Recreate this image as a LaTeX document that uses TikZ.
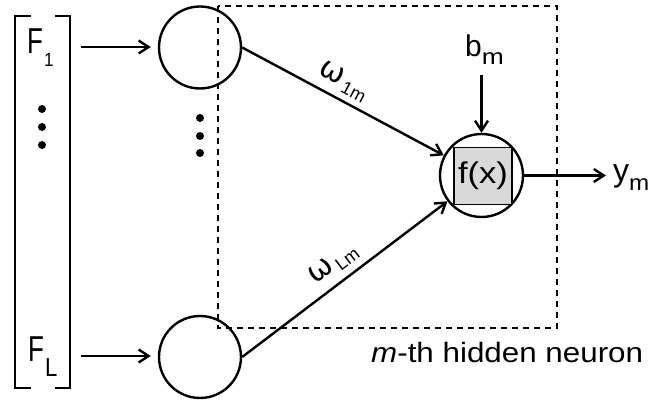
\documentclass[tikz,border=0pt]{standalone}
\usepackage{fontspec}
\setmainfont{Liberation Sans}
\newfontfamily\grk{DejaVu Sans}
\usetikzlibrary{arrows.meta}
\begin{document}
\begin{tikzpicture}[x=1pt,y=-1pt,
  line width=2.4pt,
  neuron/.style={draw,circle,minimum size=82pt,inner sep=0pt},
  arr/.style={-{Straight Barb[length=10pt,width=13pt]}},
  dotc/.style={fill,circle,inner sep=0pt,minimum size=8pt},
  txt/.style={inner sep=0pt,font=\fontsize{28}{32}\selectfont},
  wlab/.style={inner sep=0pt,sloped,font=\fontsize{28}{32}\selectfont},
  dbox/.style={dash pattern=on 6pt off 5pt},
]
\useasboundingbox (0,0) rectangle (649,403);

% input vector bracket
\draw (31,16) -- (15,16) -- (15,388) -- (31,388);
\draw (55,16) -- (70,16) -- (70,388) -- (55,388);
\node[txt,anchor=base west] (F1) at (26,54) {\scalebox{0.72}[1]{\fontsize{36}{36}\selectfont F}\hspace{1pt}\raisebox{-13pt}{\scalebox{0.9}[1]{\fontsize{19}{19}\selectfont 1}}};
\node[txt,anchor=base west] (FL) at (27,362) {\scalebox{0.72}[1]{\fontsize{36}{36}\selectfont F}\hspace{1pt}\raisebox{-15pt}{\scalebox{0.85}[1]{\fontsize{26}{26}\selectfont L}}};
\node[dotc] (d1) at (42,109) {};
\node[dotc] (d2) at (42,127) {};
\node[dotc] (d3) at (42,145) {};

% input neurons
\node[neuron] (in1) at (200,47.5) {};
\node[neuron] (inL) at (200,357) {};
\node[dotc] (e1) at (200,118) {};
\node[dotc] (e2) at (200,136) {};
\node[dotc] (e3) at (200,153) {};

\coordinate (a1) at (81,47);
\coordinate (aL) at (81,356);
\draw[arr,shorten >=7pt] (a1) -- (in1.west |- a1);
\draw[arr,shorten >=7pt] (aL) -- (inL.west |- aL);

% output neuron
\node[neuron,minimum size=83pt] (out) at (481.5,175.5) {};
\node[draw,line width=1.6pt,fill=gray!30,minimum width=58pt,minimum height=57pt,inner sep=0pt] (fx) at (483,176)
  {\scalebox{1.15}[1]{\fontsize{30}{32}\selectfont f(x)}};

% dashed neuron region
\draw[dbox] (218,6) rectangle (557,328);
\node[txt,anchor=base west] (lab) at (370,363) {\scalebox{1.12}[1]{\textit{m}-th hidden neuron}};

% weights
\draw[arr] (in1.east) -- (out)
  node[wlab,pos=0.46,above=6pt] (w1) {{\grk\fontsize{30}{30}\selectfont ω}\hspace{3pt}\raisebox{-5pt}{\fontsize{18}{18}\selectfont 1m}};
\draw[arr] (inL.east) -- (out)
  node[wlab,pos=0.5,above=7pt] (wL) {{\grk\fontsize{30}{30}\selectfont ω}\hspace{3pt}\raisebox{-5pt}{\fontsize{18}{18}\selectfont Lm}};

% bias
\node[txt,anchor=base west] (bm) at (464,57) {{\fontsize{30}{30}\selectfont b}\raisebox{-8pt}{\scalebox{1.2}[1]{\fontsize{22}{22}\selectfont m}}};
\coordinate (bs) at (481.5,75);
\draw[arr] (bs) -- (out.north);

% output
\coordinate (ye) at (606,175.5);
\draw[arr] (out.east) -- (ye);
\node[txt,anchor=base west] (ym) at (612,182) {{\fontsize{32}{32}\selectfont y}\raisebox{-9pt}{\scalebox{1.1}[1]{\fontsize{22}{22}\selectfont m}}};
\end{tikzpicture}
\end{document}
